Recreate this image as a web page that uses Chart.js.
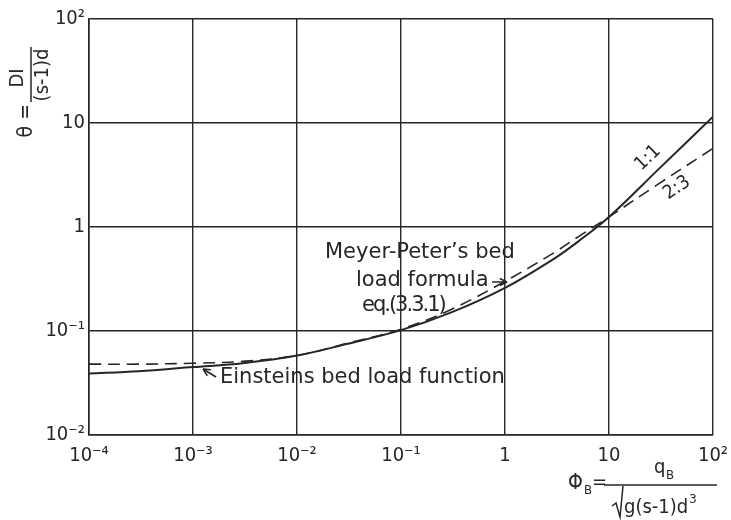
<!DOCTYPE html>
<html>
<head>
<meta charset="utf-8">
<script src="https://cdn.jsdelivr.net/npm/chart.js"></script>
<style>
  body { margin: 0; background: #fff; }
  #wrap { width: 731px; height: 520px; }
</style>
</head>
<body>
<div id="wrap"><canvas id="sedChart" width="731" height="520"></canvas></div>
<script>
// Phi_B values (x axis)
var phiB = [1e-4, 3e-4, 1e-3, 3e-3, 1e-2, 3e-2, 0.1, 0.3, 1, 3, 5, 10, 30, 100]
// theta
var einstein = [0.039, 0.041, 0.045, 0.049, 0.058, 0.075, 0.102, 0.15, 0.26, 0.5, 0.72, 1.25, 3.6, 11.5]
var meyerPeter = [0.048, 0.048, 0.049, 0.051, 0.058, 0.076, 0.104, 0.16, 0.30, 0.57, 0.8, 1.25, 2.6, 5.7]
// decade ticks
var xTicks = [1e-4, 1e-3, 1e-2, 1e-1, 1, 10, 100]
var xTickLabels = ["10\u207B\u2074", "10\u207B\u00B3", "10\u207B\u00B2", "10\u207B\u00B9", "1", "10", "10\u00B2"]
var yTicks = [1e-2, 1e-1, 1, 10, 100]
var yTickLabels = ["10\u207B\u00B2", "10\u207B\u00B9", "1", "10", "10\u00B2"]

var ink = "#262626"
var fontFam = "'DejaVu Sans Condensed', 'DejaVu Sans', sans-serif"
var noteFam = "'DejaVu Sans', sans-serif"

function pts(xs, ys) {
    return xs.map(function (x, i) { return { x: x, y: ys[i] } })
}

function labelFor(vals, labels) {
    return function (v) {
        for (var i = 0; i < vals.length; i++) {
            if (Math.abs(Math.log10(v) - Math.log10(vals[i])) < 1e-6) return labels[i]
        }
        return ""
    }
}

function arrow(ctx, x1, y1, x2, y2) {
    var a = Math.atan2(y2 - y1, x2 - x1)
    ctx.beginPath()
    ctx.moveTo(x1, y1)
    ctx.lineTo(x2, y2)
    ctx.stroke()
    ctx.beginPath()
    ctx.moveTo(x2, y2)
    ctx.lineTo(x2 - 8 * Math.cos(a - 0.45), y2 - 8 * Math.sin(a - 0.45))
    ctx.moveTo(x2, y2)
    ctx.lineTo(x2 - 8 * Math.cos(a + 0.45), y2 - 8 * Math.sin(a + 0.45))
    ctx.stroke()
}

// axis titles and notes drawn on the canvas
var notes = {
    id: "notes",
    afterDraw: function (chart) {
        var ctx = chart.ctx
        ctx.save()
        ctx.fillStyle = ink
        ctx.strokeStyle = ink
        ctx.lineWidth = 1.5

        // y title: theta = DI / ((s-1)d), rotated
        ctx.save()
        ctx.translate(31, 75)
        ctx.rotate(-Math.PI / 2)
        ctx.font = "20px " + fontFam
        ctx.textBaseline = "middle"
        ctx.textAlign = "center"
        ctx.fillText("DI", -3, -13)
        ctx.fillText("(s-1)d", 0, 12)
        ctx.beginPath()
        ctx.moveTo(-27, 0)
        ctx.lineTo(28, 0)
        ctx.stroke()
        ctx.textAlign = "right"
        ctx.font = "21px " + fontFam
        ctx.fillText("\u03B8 =", -29, -4)
        ctx.restore()

        // x title: Phi_B = q_B / sqrt(g(s-1)d^3)
        ctx.textAlign = "left"
        ctx.textBaseline = "alphabetic"
        ctx.font = "21px " + fontFam
        ctx.fillText("\u03A6", 568, 489)
        ctx.font = "13px " + fontFam
        ctx.fillText("B", 584, 494)
        ctx.font = "20px " + fontFam
        ctx.fillText("=", 592, 488)
        ctx.beginPath()
        ctx.moveTo(604, 485)
        ctx.lineTo(717, 485)
        ctx.stroke()
        ctx.fillText("q", 654, 473)
        ctx.font = "13px " + fontFam
        ctx.fillText("B", 666, 479)
        ctx.beginPath()
        ctx.moveTo(612, 506)
        ctx.lineTo(616, 503)
        ctx.lineTo(620, 517)
        ctx.lineTo(623, 486)
        ctx.stroke()
        ctx.font = "20px " + fontFam
        var den = "g(s-1)d"
        ctx.fillText(den, 624, 513)
        var dw = ctx.measureText(den).width
        ctx.font = "13px " + fontFam
        ctx.fillText("3", 624 + dw + 1, 503)

        // curve notes
        ctx.font = "21px " + noteFam
        ctx.textBaseline = "middle"
        ctx.fillText("Meyer-Peter\u2019s bed", 325, 253)
        ctx.fillText("load formula", 356, 281)
        ctx.fillText("Einsteins bed load function", 220, 378)
        ctx.letterSpacing = "-2px"
        ctx.fillText("eq.(3.3.1)", 362, 306)
        ctx.letterSpacing = "0px"
        arrow(ctx, 492, 282, 507, 282)
        arrow(ctx, 216, 377, 203, 369)

        ctx.font = "19px " + fontFam
        ctx.textAlign = "center"
        ctx.save()
        ctx.translate(648, 158)
        ctx.rotate(-44 * Math.PI / 180)
        ctx.fillText("1:1", 0, 0)
        ctx.restore()
        ctx.save()
        ctx.translate(677, 188)
        ctx.rotate(-34 * Math.PI / 180)
        ctx.fillText("2:3", 0, 0)
        ctx.restore()

        ctx.restore()
    }
}

var myChart = document.getElementById("sedChart").getContext("2d")
var chart = new Chart(myChart, {
    type: "line",
    data: {
        datasets: [{
            label: "Einstein",
            data: pts(phiB, einstein),
            borderColor: ink,
            borderWidth: 2,
            pointRadius: 0,
            tension: 0.35,
            fill: false
        }, {
            label: "Meyer-Peter",
            data: pts(phiB, meyerPeter),
            borderColor: ink,
            borderWidth: 1.6,
            borderDash: [12, 7],
            pointRadius: 0,
            tension: 0.35,
            fill: false
        }]
    },
    options: {
        responsive: false,
        animation: false,
        layout: { padding: { top: 19, right: 18, left: 0, bottom: 0 } },
        plugins: {
            legend: { display: false },
            tooltip: { enabled: false }
        },
        scales: {
            x: {
                type: "logarithmic",
                min: 1e-4,
                max: 100,
                afterBuildTicks: function (s) { s.ticks = xTicks.map(function (v) { return { value: v } }) },
                afterFit: function (s) { s.height = 85; s.paddingLeft = 0; s.paddingRight = 0 },
                grid: { color: ink, lineWidth: 1.4, drawTicks: false },
                border: { display: true, color: ink, width: 1.6 },
                ticks: {
                    color: ink,
                    font: { family: fontFam, size: 20 },
                    padding: 9,
                    autoSkip: false,
                    maxRotation: 0,
                    callback: labelFor(xTicks, xTickLabels)
                }
            },
            y: {
                type: "logarithmic",
                min: 1e-2,
                max: 100,
                afterBuildTicks: function (s) { s.ticks = yTicks.map(function (v) { return { value: v } }) },
                afterFit: function (s) { s.width = 89; s.paddingTop = 0; s.paddingBottom = 0 },
                grid: { color: ink, lineWidth: 1.4, drawTicks: false },
                border: { display: true, color: ink, width: 1.6 },
                ticks: {
                    color: ink,
                    font: { family: fontFam, size: 20 },
                    padding: 4,
                    autoSkip: false,
                    callback: labelFor(yTicks, yTickLabels)
                }
            }
        }
    },
    plugins: [notes]
})
</script>
</body>
</html>
